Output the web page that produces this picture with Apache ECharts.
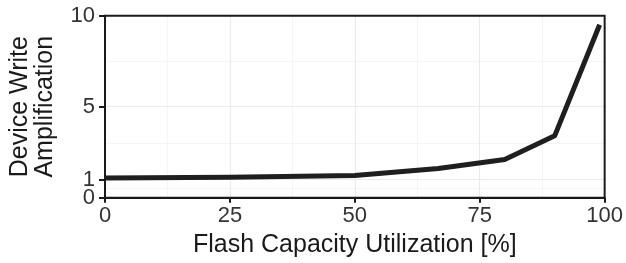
<!DOCTYPE html>
<html><head><meta charset="utf-8">
<script src="https://cdn.jsdelivr.net/npm/echarts@6/dist/echarts.min.js"></script>
<style>html,body{margin:0;padding:0;background:#fff}#c{width:626px;height:263px}</style>
</head><body><div id="c"></div>
<script>
const utilization = [0, 25, 50, 66.7, 80, 90, 99];
const writeAmp = [1.08, 1.12, 1.22, 1.6, 2.1, 3.4, 9.5];
const xTicks = [0, 25, 50, 75, 100];
const yTicks = [0, 1, 5, 10];
const xMinor = [12.5, 37.5, 62.5, 87.5];
const yMinor = [0.5, 3, 7.5];
const xTitle = 'Flash Capacity Utilization [%]';
const yTitle = 'Device Write\nAmplification';

const font = 'Liberation Sans, Arial, Helvetica, sans-serif';
const gridMajor = {color: '#ebebeb', width: 1.1, type: 'solid'};
const gridMinor = {color: '#f3f3f3', width: 0.8, type: 'solid'};
const markData = [];
yTicks.filter(v => v > 0 && v < 10).forEach(v => markData.push({yAxis: v, lineStyle: gridMajor}));
yMinor.forEach(v => markData.push({yAxis: v, lineStyle: gridMinor}));
xTicks.filter(v => v > 0 && v < 100).forEach(v => markData.push({xAxis: v, lineStyle: gridMajor}));
xMinor.forEach(v => markData.push({xAxis: v, lineStyle: gridMinor}));

// split the y tick labels over two overlaid axes so close labels (0 and 1) both show
const yTicksA = yTicks.filter((v, i) => i % 2 === 0);
const yTicksB = yTicks.filter((v, i) => i % 2 === 1);

const yLabel = {fontFamily: font, fontSize: 22, color: '#333', margin: 10, hideOverlap: false};
const yTick = {show: true, length: 6, lineStyle: {color: '#1a1a1a', width: 2}};

const chart = echarts.init(document.getElementById('c'), null, {renderer: 'canvas'});
chart.setOption({
  animation: false,
  backgroundColor: '#fff',
  grid: {left: 102.5, right: 18.5, top: 15.7, bottom: 65.3, show: true, borderColor: '#1a1a1a', borderWidth: 2, backgroundColor: 'transparent', z: 10},
  xAxis: {
    type: 'value', min: 0, max: 100, interval: 25,
    name: xTitle, nameLocation: 'middle', nameGap: 35,
    nameTextStyle: {fontFamily: font, fontSize: 25, color: '#1a1a1a'},
    axisLine: {show: true, lineStyle: {color: '#1a1a1a', width: 2}},
    axisTick: {show: true, length: 5, lineStyle: {color: '#1a1a1a', width: 2}},
    axisLabel: {fontFamily: font, fontSize: 22, color: '#333', margin: 7},
    splitLine: {show: false}
  },
  yAxis: [{
    type: 'value', min: 0, max: 10, interval: 1, position: 'left',
    name: yTitle, nameLocation: 'middle', nameGap: 47,
    nameTextStyle: {fontFamily: font, fontSize: 25, color: '#1a1a1a', lineHeight: 25, align: 'center'},
    axisLine: {show: true, lineStyle: {color: '#1a1a1a', width: 2}},
    axisTick: Object.assign({customValues: yTicksA}, yTick),
    axisLabel: Object.assign({customValues: yTicksA}, yLabel),
    splitLine: {show: false}
  }, {
    type: 'value', min: 0, max: 10, interval: 1, position: 'left', offset: 0,
    axisLine: {show: false},
    axisTick: Object.assign({customValues: yTicksB}, yTick),
    axisLabel: Object.assign({customValues: yTicksB}, yLabel),
    splitLine: {show: false}
  }],
  series: [{
    type: 'line',
    yAxisIndex: 0,
    data: utilization.map((u, i) => [u, writeAmp[i]]),
    symbol: 'none',
    lineStyle: {color: '#1f1f1f', width: 5, join: 'round'},
    z: 5,
    markLine: {silent: true, symbol: ['none', 'none'], label: {show: false}, z: 1, animation: false, data: markData}
  }]
});
</script></body></html>
